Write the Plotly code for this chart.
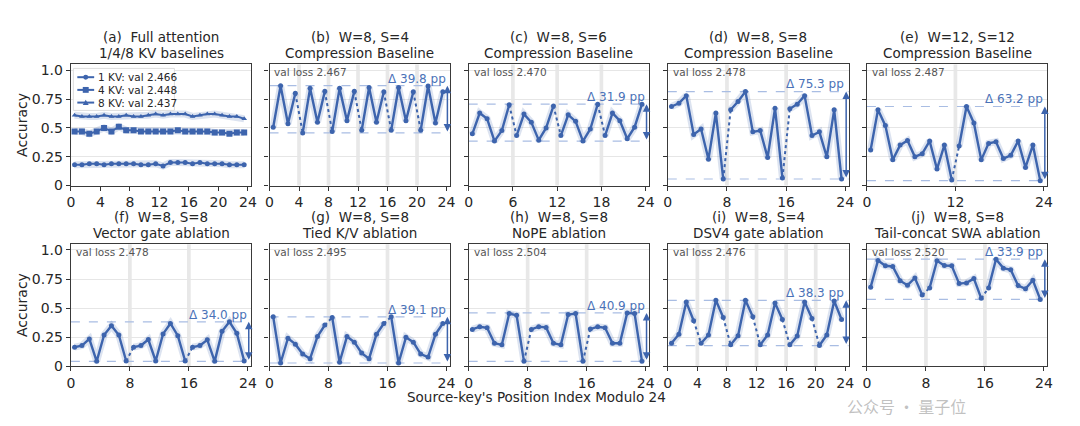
import plotly.graph_objects as go

# ---------------- data ----------------
positions = [i + 0.5 for i in range(24)]  # source-key position index (bin centres)

kv1_acc = [0.18, 0.18, 0.19, 0.19, 0.18, 0.19, 0.19, 0.19, 0.19, 0.18, 0.18, 0.19,
           0.17, 0.20, 0.20, 0.20, 0.19, 0.20, 0.19, 0.19, 0.19, 0.18, 0.18, 0.18]
kv4_acc = [0.47, 0.47, 0.45, 0.47, 0.50, 0.47, 0.51, 0.48, 0.48, 0.47, 0.47, 0.47,
           0.47, 0.47, 0.48, 0.47, 0.47, 0.47, 0.47, 0.46, 0.46, 0.45, 0.46, 0.46]
kv8_acc = [0.61, 0.60, 0.60, 0.60, 0.61, 0.60, 0.60, 0.61, 0.60, 0.60, 0.61, 0.62,
           0.61, 0.62, 0.62, 0.62, 0.60, 0.61, 0.62, 0.62, 0.61, 0.60, 0.60, 0.58]
baseline_names = ["1 KV: val 2.466", "4 KV: val 2.448", "8 KV: val 2.437"]

b_acc = [0.506, 0.866, 0.537, 0.800, 0.457, 0.843, 0.549, 0.817, 0.469, 0.843, 0.563, 0.817,
         0.480, 0.851, 0.549, 0.814, 0.480, 0.851, 0.563, 0.814, 0.480, 0.863, 0.543, 0.814]
c_acc = [0.449, 0.629, 0.580, 0.386, 0.477, 0.700, 0.434, 0.620, 0.549, 0.394, 0.500, 0.691,
         0.434, 0.614, 0.557, 0.386, 0.491, 0.706, 0.434, 0.629, 0.563, 0.406, 0.506, 0.706]
d_acc = [0.686, 0.714, 0.780, 0.443, 0.491, 0.229, 0.629, 0.057, 0.657, 0.729, 0.815, 0.466,
         0.477, 0.243, 0.671, 0.066, 0.666, 0.706, 0.780, 0.434, 0.466, 0.249, 0.657, 0.057]
e_acc = [0.309, 0.657, 0.520, 0.223, 0.351, 0.391, 0.249, 0.277, 0.386, 0.143, 0.351, 0.049,
         0.343, 0.686, 0.543, 0.223, 0.366, 0.380, 0.234, 0.263, 0.386, 0.157, 0.351, 0.043]
f_acc = [0.164, 0.178, 0.235, 0.042, 0.269, 0.348, 0.269, 0.045, 0.164, 0.178, 0.229, 0.045,
         0.278, 0.368, 0.263, 0.045, 0.164, 0.178, 0.227, 0.042, 0.300, 0.382, 0.283, 0.045]
g_acc = [0.425, 0.028, 0.241, 0.190, 0.105, 0.065, 0.255, 0.354, 0.419, 0.034, 0.255, 0.207,
         0.113, 0.065, 0.275, 0.368, 0.425, 0.028, 0.249, 0.207, 0.105, 0.079, 0.275, 0.368]
h_acc = [0.317, 0.340, 0.331, 0.198, 0.184, 0.453, 0.439, 0.042, 0.317, 0.340, 0.334, 0.198,
         0.184, 0.445, 0.453, 0.042, 0.320, 0.340, 0.331, 0.198, 0.198, 0.459, 0.453, 0.042]
i_acc = [0.198, 0.275, 0.552, 0.391, 0.198, 0.269, 0.567, 0.419, 0.184, 0.263, 0.567, 0.425,
         0.184, 0.269, 0.544, 0.402, 0.184, 0.260, 0.552, 0.411, 0.178, 0.269, 0.561, 0.402]
j_acc = [0.680, 0.909, 0.864, 0.858, 0.736, 0.697, 0.759, 0.612, 0.674, 0.907, 0.867, 0.864,
         0.711, 0.717, 0.754, 0.584, 0.674, 0.921, 0.844, 0.830, 0.694, 0.666, 0.739, 0.575]

panel_title_1 = ["(a)\u00a0\u00a0Full attention", "(b)\u00a0\u00a0W=8, S=4", "(c)\u00a0\u00a0W=8, S=6",
                 "(d)\u00a0\u00a0W=8, S=8", "(e)\u00a0\u00a0W=12, S=12", "(f)\u00a0\u00a0W=8, S=8",
                 "(g)\u00a0\u00a0W=8, S=8", "(h)\u00a0\u00a0W=8, S=8", "(i)\u00a0\u00a0W=8, S=4",
                 "(j)\u00a0\u00a0W=8, S=8"]
panel_title_2 = ["1/4/8 KV baselines", "Compression Baseline", "Compression Baseline",
                 "Compression Baseline", "Compression Baseline", "Vector gate ablation",
                 "Tied K/V ablation", "NoPE ablation", "DSV4 gate ablation",
                 "Tail-concat SWA ablation"]
panel_series = [None, b_acc, c_acc, d_acc, e_acc, f_acc, g_acc, h_acc, i_acc, j_acc]
stride = [None, 4, 6, 8, 12, 8, 8, 8, 4, 8]
val_loss = [None, "2.467", "2.470", "2.478", "2.487", "2.478", "2.495", "2.504", "2.476", "2.520"]
delta_pp = [None, "39.8", "31.9", "75.3", "63.2", "34.0", "39.1", "40.9", "38.3", "33.9"]
x_ticks = [[0, 4, 8, 12, 16, 20, 24], [0, 4, 8, 12, 16, 20, 24], [0, 6, 12, 18, 24],
           [0, 8, 16, 24], [0, 12, 24], [0, 8, 16, 24], [0, 8, 16, 24], [0, 8, 16, 24],
           [0, 4, 8, 12, 16, 20, 24], [0, 8, 16, 24]]
y_ticks = [0, 0.25, 0.5, 0.75, 1.0]
y_ticktext = ["0", "0.25", "0.5", "0.75", "1.0"]

# ---------------- style ----------------
W, H = 1080, 426
BLUE = "#3d64ad"
GLOW = "rgba(61,100,173,0.18)"
DASH = "#a9bde3"
DELTA = "#4a72b8"
TXT = "#262626"
FONT = "DejaVu Sans"
col_px = [(67.5, 249.5), (268, 450), (469, 651), (670, 852.5), (871, 1053)]
row_px = [(64, 188), (248, 373)]


def px(x):
    return x / W


def py(y):
    return 1 - y / H


fig = go.Figure()
layout = dict(width=W, height=H, margin=dict(l=0, r=0, t=0, b=0),
              paper_bgcolor="white", plot_bgcolor="white", showlegend=False,
              font=dict(family=FONT, color=TXT))
shapes, annotations = [], []

for k in range(10):
    n = k + 1
    r, c = divmod(k, 5)
    xa = "x" if n == 1 else f"x{n}"
    ya = "y" if n == 1 else f"y{n}"
    xname = "xaxis" if n == 1 else f"xaxis{n}"
    yname = "yaxis" if n == 1 else f"yaxis{n}"
    x0p, x1p = col_px[c]
    y0p, y1p = row_px[r]
    layout[xname] = dict(domain=[px(x0p), px(x1p)], range=[0, 24.45], anchor=ya,
                         tickvals=x_ticks[k], ticks="outside", ticklen=4, tickcolor="#333",
                         showline=True, mirror=True, linecolor="#3a3a3a", linewidth=1.2,
                         showgrid=False, zeroline=False,
                         tickfont=dict(size=14, color=TXT, family=FONT))
    layout[yname] = dict(domain=[py(y1p), py(y0p)], range=[0, 1.05], anchor=xa,
                         tickvals=y_ticks, ticktext=y_ticktext, showticklabels=(c == 0),
                         ticks="outside", ticklen=4, tickcolor="#333",
                         showline=True, mirror=True, linecolor="#3a3a3a", linewidth=1.2,
                         showgrid=True, gridcolor="#e6e6e6", gridwidth=1, zeroline=False,
                         tickfont=dict(size=14, color=TXT, family=FONT))
    # two-line title, each line placed separately
    for txt, off in ((panel_title_1[k], 28), (panel_title_2[k], 11.5)):
        annotations.append(dict(text=txt, xref="paper", yref="paper",
                                x=px((x0p + x1p) / 2), y=py(y0p - off), xanchor="center",
                                yanchor="middle", showarrow=False, borderpad=0,
                                font=dict(size=13.5, color=TXT, family=FONT)))

    if k == 0:
        for vals, sym, size in [(kv1_acc, "circle", 5), (kv4_acc, "square", 6),
                                (kv8_acc, "triangle-up", 5)]:
            fig.add_trace(go.Scatter(x=positions, y=vals, xaxis=xa, yaxis=ya, mode="lines",
                                     line=dict(color=GLOW, width=7), hoverinfo="skip"))
            fig.add_trace(go.Scatter(x=positions, y=vals, xaxis=xa, yaxis=ya, mode="lines+markers",
                                     line=dict(color=BLUE, width=2),
                                     marker=dict(symbol=sym, size=size, color=BLUE)))
        continue

    vals = panel_series[k]
    s = stride[k]
    # grey boundary bands
    for b in range(s, 24, s):
        shapes.append(dict(type="rect", xref=xa, yref=f"{ya} domain", x0=b - 0.25, x1=b + 0.25,
                           y0=0, y1=1, fillcolor="#e8e8e8", line=dict(width=0), layer="below"))
    vmax, vmin = max(vals), min(vals)
    for v in (vmax, vmin):
        shapes.append(dict(type="line", xref=f"{xa} domain", yref=ya, x0=0, x1=1, y0=v, y1=v,
                           line=dict(color=DASH, width=1.2, dash="dash"), layer="below"))
    # segments
    for g0 in range(0, 24, s):
        gx = positions[g0:g0 + s]
        gy = vals[g0:g0 + s]
        fig.add_trace(go.Scatter(x=gx, y=gy, xaxis=xa, yaxis=ya, mode="lines",
                                 line=dict(color=GLOW, width=7), hoverinfo="skip"))
        fig.add_trace(go.Scatter(x=gx, y=gy, xaxis=xa, yaxis=ya, mode="lines+markers",
                                 line=dict(color=BLUE, width=2.4),
                                 marker=dict(symbol="circle", size=5, color=BLUE)))
        if g0 + s < 24:
            fig.add_trace(go.Scatter(x=positions[g0 + s - 1:g0 + s + 1],
                                     y=vals[g0 + s - 1:g0 + s + 1], xaxis=xa, yaxis=ya,
                                     mode="lines", line=dict(color=BLUE, width=2, dash="dot")))
    # val loss
    annotations.append(dict(text=f"val loss {val_loss[k]}", xref=xa, yref=ya, x=0.4, y=0.985,
                            xanchor="left", yanchor="middle", showarrow=False,
                            font=dict(size=10.5, color="#555", family=FONT)))
    # delta label + arrow
    annotations.append(dict(text=f"\u0394 {delta_pp[k]} pp", xref=xa, yref=ya, x=24.15,
                            y=vmax + 0.062, xanchor="right", yanchor="middle", showarrow=False,
                            font=dict(size=12, color=DELTA, family=FONT)))
    annotations.append(dict(text="", xref=xa, yref=ya, x=24.12, y=vmax, axref=xa, ayref=ya,
                            ax=24.12, ay=vmin, showarrow=True, arrowhead=2, arrowside="end+start",
                            arrowsize=1, arrowwidth=1.5, arrowcolor=BLUE, standoff=0,
                            startstandoff=0))

# manual legend in panel (a)
shapes.append(dict(type="rect", xref="paper", yref="paper", x0=px(70), x1=px(172),
                   y0=py(111), y1=py(68), fillcolor="rgba(255,255,255,0.85)",
                   line=dict(color="#dddddd", width=1), layer="above"))
leg_rows = [77, 90, 103]
for idx, (name, yy) in enumerate(zip(baseline_names, leg_rows)):
    shapes.append(dict(type="line", xref="paper", yref="paper", x0=px(74), x1=px(91),
                       y0=py(yy), y1=py(yy), line=dict(color=BLUE, width=2), layer="above"))
    cx = 82.5
    if idx == 0:
        shapes.append(dict(type="circle", xref="paper", yref="paper", x0=px(cx - 2.5),
                           x1=px(cx + 2.5), y0=py(yy + 2.5), y1=py(yy - 2.5),
                           fillcolor=BLUE, line=dict(width=0), layer="above"))
    elif idx == 1:
        shapes.append(dict(type="rect", xref="paper", yref="paper", x0=px(cx - 3),
                           x1=px(cx + 3), y0=py(yy + 3), y1=py(yy - 3),
                           fillcolor=BLUE, line=dict(width=0), layer="above"))
    else:
        path = (f"M {px(cx - 3)},{py(yy + 2.5)} L {px(cx + 3)},{py(yy + 2.5)} "
                f"L {px(cx)},{py(yy - 3)} Z")
        shapes.append(dict(type="path", xref="paper", yref="paper", path=path,
                           fillcolor=BLUE, line=dict(width=0), layer="above"))
    annotations.append(dict(text=name, xref="paper", yref="paper", x=px(93), y=py(yy),
                            xanchor="left", yanchor="middle", showarrow=False,
                            font=dict(size=10.5, color=TXT, family=FONT)))

# axis titles
for yc in [(64 + 188) / 2, (248 + 373) / 2]:
    annotations.append(dict(text="Accuracy", xref="paper", yref="paper", x=px(18), y=py(yc),
                            textangle=-90, xanchor="center", yanchor="middle", showarrow=False,
                            font=dict(size=14, color=TXT, family=FONT)))
annotations.append(dict(text="Source-key's Position Index Modulo 24", xref="paper", yref="paper",
                        x=px(537), y=py(405), xanchor="center", yanchor="middle",
                        showarrow=False, font=dict(size=13.5, color=TXT, family=FONT)))

# watermark (kept clear of the tick labels)
annotations.append(dict(text="公众号 · 量子位", xref="paper", yref="paper", x=px(850), y=py(414),
                        xanchor="left", yanchor="middle", showarrow=False, borderpad=0,
                        font=dict(size=16, color="rgba(140,140,140,0.55)",
                                  family="Noto Sans CJK SC")))

layout["shapes"] = shapes
layout["annotations"] = annotations
fig.update_layout(**layout)
fig.write_html("out.html")
